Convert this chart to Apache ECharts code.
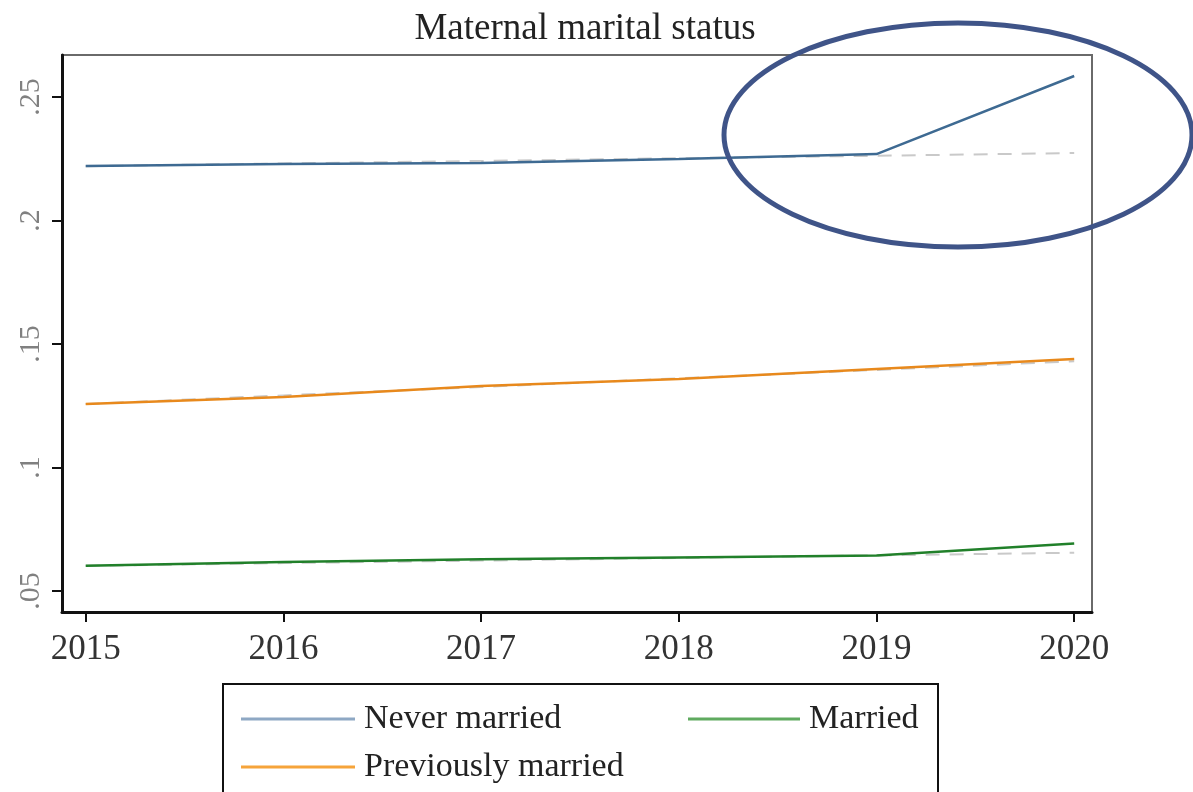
<!DOCTYPE html>
<html>
<head>
<meta charset="utf-8">
<script src="https://cdn.jsdelivr.net/npm/echarts@6/dist/echarts.min.js"></script>
<style>
  html, body { margin: 0; padding: 0; background: #fff; }
  #chart { width: 1193px; height: 792px; }
</style>
</head>
<body>
<div id="chart"></div>
<script>
// Years on the x axis
const years = [2015, 2016, 2017, 2018, 2019, 2020];

// Share of births by maternal marital status (observed)
const neverMarried      = [0.2221, 0.2229, 0.2233, 0.2249, 0.2269, 0.2585];
const previouslyMarried = [0.1257, 0.1285, 0.1330, 0.1358, 0.1399, 0.1439];
const married           = [0.0602, 0.0617, 0.0629, 0.0636, 0.0644, 0.0692];

// Pre-period linear trends (dashed)
const neverMarriedTrend      = [0.2220, 0.2231, 0.2241, 0.2252, 0.2262, 0.2273];
const previouslyMarriedTrend = [0.1257, 0.1292, 0.1326, 0.1361, 0.1395, 0.1430];
const marriedTrend           = [0.0602, 0.0613, 0.0623, 0.0634, 0.0644, 0.0655];

// Axis tick labels
const xTicks = [2015, 2016, 2017, 2018, 2019, 2020];
const yTicks = [0.05, 0.10, 0.15, 0.20, 0.25];

const SERIF = '"Liberation Serif", "DejaVu Serif", serif';
const pairs = arr => years.map((y, i) => [y, arr[i]]);

const trend = (name, data) => ({
  name, type: 'line', data: pairs(data), symbol: 'none', z: 1,
  lineStyle: { color: '#c9c9c9', width: 2, type: [14, 10] }
});
const observed = (name, data, color) => ({
  name, type: 'line', data: pairs(data), symbol: 'none', z: 3,
  lineStyle: { color, width: 2.5 }, itemStyle: { color }
});

const chart = echarts.init(document.getElementById('chart'), null, { renderer: 'canvas' });
chart.setOption({
  animation: false,
  backgroundColor: '#fff',
  title: {
    text: 'Maternal marital status',
    left: 580, top: 6, textAlign: 'center',
    textStyle: { fontFamily: SERIF, fontSize: 37, fontWeight: 'normal', color: '#222' }
  },
  grid: {
    left: 62, right: 101, top: 55, bottom: 180,
    show: true, borderColor: '#6a6a6a', borderWidth: 2, backgroundColor: '#fff'
  },
  xAxis: {
    type: 'value', min: 2014.88, max: 2020.09,
    axisLine: { show: true, lineStyle: { color: '#111', width: 3 } },
    axisTick: { show: true, length: 10, lineStyle: { color: '#111', width: 2 }, customValues: xTicks },
    axisLabel: {
      customValues: xTicks, margin: 20,
      fontFamily: SERIF, fontSize: 35, color: '#333',
      formatter: v => String(Math.round(v))
    },
    splitLine: { show: false }
  },
  yAxis: {
    type: 'value', min: 0.0415, max: 0.267,
    axisLine: { show: true, lineStyle: { color: '#111', width: 3 } },
    axisTick: { show: true, length: 10, lineStyle: { color: '#111', width: 2 }, customValues: yTicks },
    axisLabel: {
      customValues: yTicks, rotate: 90, margin: 16,
      fontFamily: SERIF, fontSize: 30, color: '#808080',
      formatter: v => String(Math.round(v * 100) / 100).replace(/^0/, '')
    },
    splitLine: { show: false }
  },
  legend: [
    {
      orient: 'vertical', left: 236, top: 697, itemGap: 14,
      itemWidth: 114, itemHeight: 3, icon: 'rect',
      textStyle: { fontFamily: SERIF, fontSize: 34, color: '#222', padding: [0, 0, 0, 4] },
      data: [
        { name: 'Never married', itemStyle: { color: '#8ea8c4' } },
        { name: 'Previously married', itemStyle: { color: '#f6a43a' } }
      ]
    },
    {
      orient: 'vertical', left: 683, top: 697,
      itemWidth: 112, itemHeight: 3, icon: 'rect',
      textStyle: { fontFamily: SERIF, fontSize: 34, color: '#222', padding: [0, 0, 0, 4] },
      data: [{ name: 'Married', itemStyle: { color: '#5faa5f' } }]
    }
  ],
  graphic: [
    {
      type: 'rect', z: 0, silent: true,
      shape: { x: 223, y: 684, width: 715, height: 112 },
      style: { fill: 'none', stroke: '#111', lineWidth: 2 }
    },
    {
      type: 'ellipse', z: 100, silent: true,
      shape: { cx: 958, cy: 135, rx: 234, ry: 112 },
      style: { fill: 'none', stroke: '#3f5488', lineWidth: 5 }
    }
  ],
  series: [
    trend('Never married trend', neverMarriedTrend),
    trend('Previously married trend', previouslyMarriedTrend),
    trend('Married trend', marriedTrend),
    observed('Never married', neverMarried, '#3e6a92'),
    observed('Previously married', previouslyMarried, '#e8891c'),
    observed('Married', married, '#21802a')
  ]
});
</script>
</body>
</html>
